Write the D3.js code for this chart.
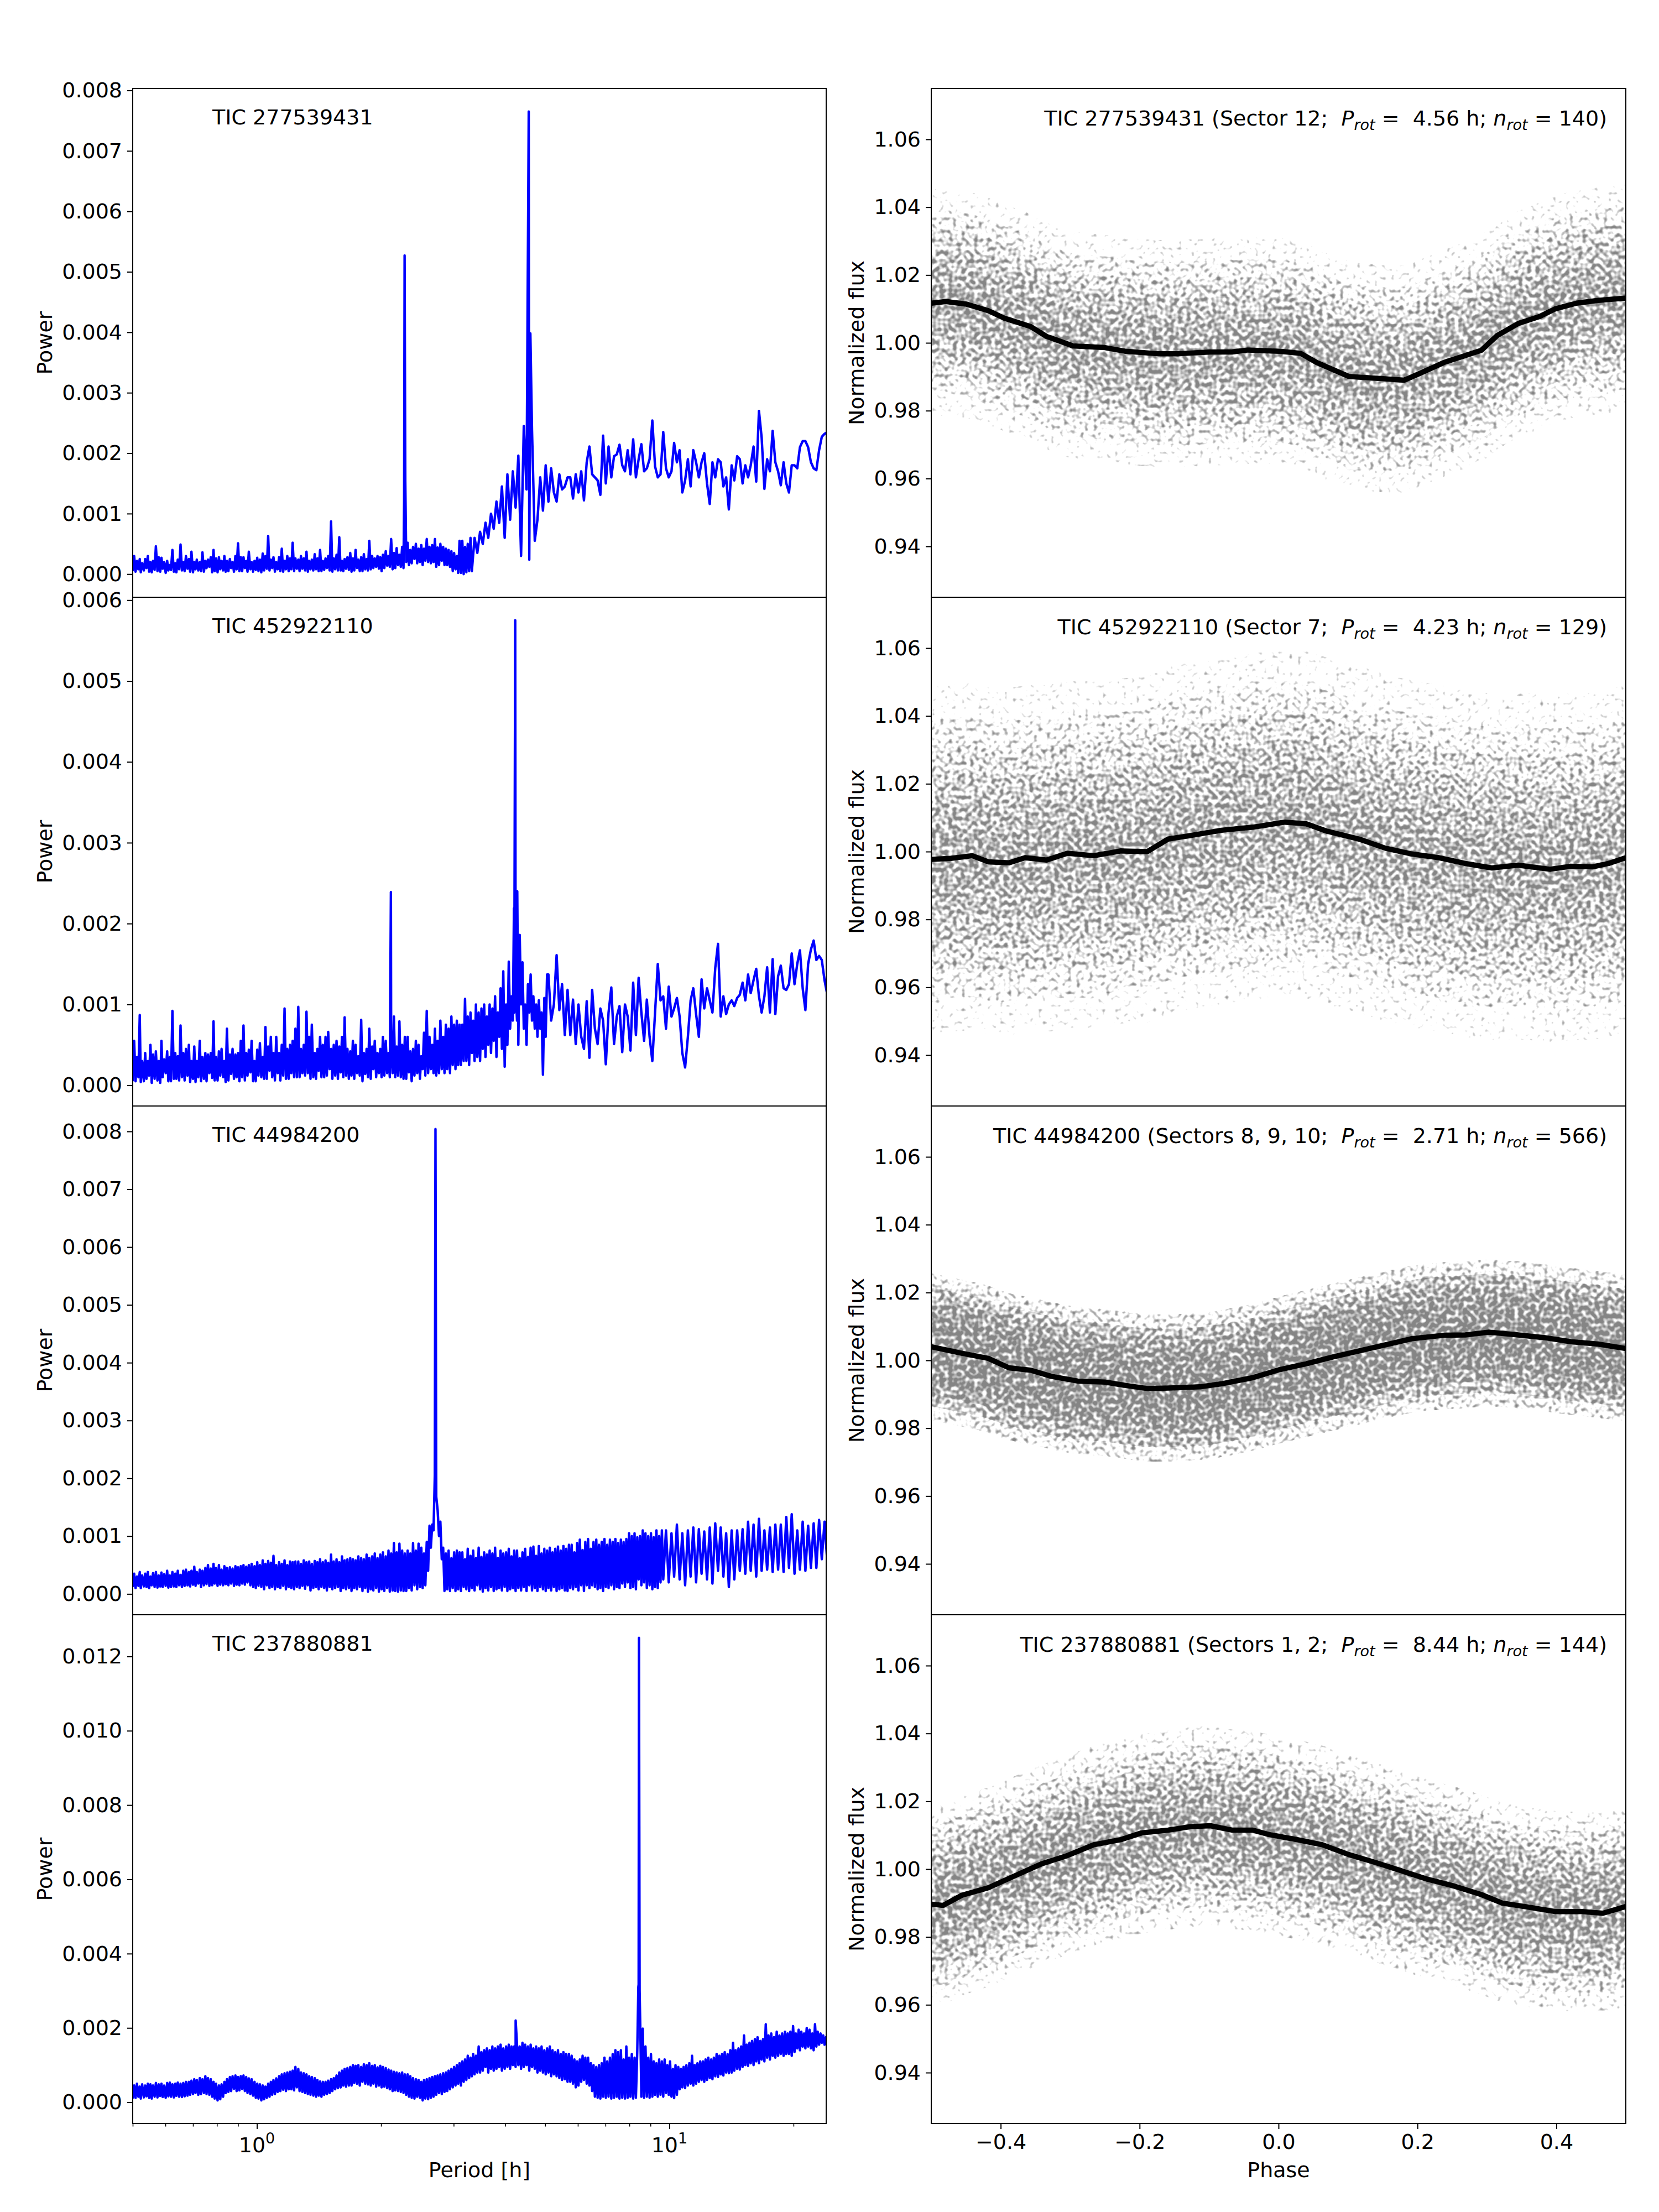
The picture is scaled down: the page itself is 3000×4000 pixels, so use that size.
<!DOCTYPE html>
<html>

<head>
    <meta charset="utf-8">
    <title>Periodograms and phase-folded light curves</title>
    <script src="https://d3js.org/d3.v7.min.js"></script>
    <style>
        body { margin: 0; background: #fff; }
        text { font-family: "DejaVu Sans", sans-serif; fill: #000; }
    </style>
</head>

<body>

    <svg width="3000" height="4000" id="mainSvg"></svg>
    <script>

        // ---- labels ----
        const ticNames = ["TIC 277539431", "TIC 452922110", "TIC 44984200", "TIC 237880881"];
        const sectorNotes = ["Sector 12", "Sector 7", "Sectors 8, 9, 10", "Sectors 1, 2"];
        const rotPeriods = ["4.56", "4.23", "2.71", "8.44"];
        const rotCounts = ["140", "129", "566", "144"];

        // ---- ticks ----
        const powerTicks = [
            [0, 0.001, 0.002, 0.003, 0.004, 0.005, 0.006, 0.007, 0.008],
            [0, 0.001, 0.002, 0.003, 0.004, 0.005, 0.006],
            [0, 0.001, 0.002, 0.003, 0.004, 0.005, 0.006, 0.007, 0.008],
            [0, 0.002, 0.004, 0.006, 0.008, 0.010, 0.012]
        ];
        const fluxTicks = [0.94, 0.96, 0.98, 1.00, 1.02, 1.04, 1.06];
        const phaseTicks = [-0.4, -0.2, 0.0, 0.2, 0.4];
        const periodMajorTicks = [1, 10];
        const periodMajorExp = ["0", "1"];
        const periodMinorTicks = [0.5, 0.6, 0.7, 0.8, 0.9, 2, 3, 4, 5, 6, 7, 8, 9, 20];

        // ---- periodograms: period [h] sampling, power in units of 1e-3 ----
        const periodGrid = [
            0.500, 0.508, 0.516, 0.523, 0.532, 0.540, 0.548, 0.556, 0.565, 0.574, 0.583, 0.591, 0.601, 0.610, 0.619, 0.629, 0.638, 0.648, 0.658, 0.668,
            0.679, 0.689, 0.700, 0.710, 0.721, 0.732, 0.744, 0.755, 0.767, 0.779, 0.790, 0.803, 0.815, 0.828, 0.840, 0.853, 0.866, 0.880, 0.893, 0.907,
            0.921, 0.935, 0.949, 0.964, 0.979, 0.994, 1.009, 1.025, 1.041, 1.057, 1.073, 1.089, 1.106, 1.123, 1.140, 1.158, 1.176, 1.194, 1.212, 1.231,
            1.250, 1.269, 1.289, 1.309, 1.329, 1.349, 1.370, 1.391, 1.412, 1.434, 1.456, 1.478, 1.501, 1.524, 1.548, 1.572, 1.596, 1.620, 1.645, 1.671,
            1.696, 1.722, 1.749, 1.776, 1.803, 1.831, 1.859, 1.888, 1.916, 1.946, 1.976, 2.006, 2.037, 2.069, 2.100, 2.133, 2.165, 2.199, 2.233, 2.267,
            2.302, 2.337, 2.373, 2.410, 2.447, 2.485, 2.523, 2.561, 2.601, 2.641, 2.681, 2.722, 2.764, 2.807, 2.850, 2.894, 2.939, 2.984, 3.030, 3.076,
            3.124, 3.172, 3.220, 3.270, 3.320, 3.371, 3.423, 3.476, 3.529, 3.583, 3.639, 3.695, 3.751, 3.809, 3.868, 3.927, 3.988, 4.049, 4.111, 4.174,
            4.239, 4.304, 4.370, 4.437, 4.506, 4.575, 4.645, 4.717, 4.789, 4.863, 4.938, 5.014, 5.091, 5.169, 5.249, 5.329, 5.411, 5.494, 5.579, 5.665,
            5.752, 5.840, 5.930, 6.021, 6.114, 6.208, 6.304, 6.400, 6.499, 6.599, 6.700, 6.803, 6.908, 7.014, 7.122, 7.232, 7.343, 7.456, 7.571, 7.687,
            7.805, 7.925, 8.047, 8.171, 8.297, 8.424, 8.554, 8.685, 8.819, 8.955, 9.093, 9.233, 9.375, 9.519, 9.665, 9.814, 9.965, 10.12, 10.27, 10.43,
            10.59, 10.75, 10.92, 11.09, 11.26, 11.43, 11.61, 11.79, 11.97, 12.15, 12.34, 12.53, 12.72, 12.92, 13.12, 13.32, 13.52, 13.73, 13.94, 14.16,
            14.37, 14.60, 14.82, 15.05, 15.28, 15.52, 15.75, 16.00, 16.24, 16.49, 16.74, 17.00, 17.26, 17.53, 17.80, 18.07, 18.35, 18.63, 18.92, 19.21,
            19.50, 19.80, 20.11, 20.42, 20.73, 21.05, 21.37, 21.70, 22.04, 22.38, 22.72, 23.07, 23.42, 23.78, 24.15
        ];
        // in-between samples, read where the periodogram is a dense band
        const periodMid = [
            0.504, 0.512, 0.520, 0.527, 0.536, 0.544, 0.552, 0.560, 0.569, 0.578, 0.587, 0.596, 0.606, 0.615, 0.624, 0.634, 0.643, 0.653, 0.663, 0.673,
            0.684, 0.694, 0.705, 0.715, 0.727, 0.738, 0.750, 0.761, 0.773, 0.785, 0.796, 0.809, 0.821, 0.834, 0.846, 0.860, 0.873, 0.887, 0.900, 0.914,
            0.928, 0.942, 0.956, 0.971, 0.987, 1.002, 1.017, 1.033, 1.049, 1.065, 1.081, 1.097, 1.114, 1.132, 1.149, 1.167, 1.185, 1.203, 1.221, 1.240,
            1.260, 1.279, 1.299, 1.319, 1.339, 1.359, 1.381, 1.402, 1.423, 1.445, 1.467, 1.489, 1.513, 1.536, 1.560, 1.584, 1.608, 1.632, 1.658, 1.684,
            1.709, 1.735, 1.762, 1.790, 1.817, 1.845, 1.873, 1.903, 1.931, 1.961, 1.991, 2.021, 2.053, 2.085, 2.116, 2.149, 2.182, 2.216, 2.250, 2.284,
            2.320, 2.355, 2.391, 2.429, 2.466, 2.504, 2.542, 2.581, 2.621, 2.661, 2.702, 2.743, 2.785, 2.829, 2.872, 2.916, 2.962, 3.007, 3.053, 3.100,
            3.148, 3.196, 3.245, 3.295, 3.345, 3.397, 3.449, 3.503, 3.556, 3.611, 3.667, 3.723, 3.780, 3.838, 3.898, 3.957, 4.019, 4.080, 4.143, 4.206,
            4.272, 4.337, 4.404, 4.471, 4.541, 4.610, 4.681, 4.753, 4.826, 4.900, 4.976, 5.053, 5.130, 5.209, 5.289, 5.370, 5.453, 5.536, 5.622, 5.709,
            5.796, 5.885, 5.976, 6.067, 6.161, 6.256, 6.352, 6.449, 6.549, 6.650, 6.751, 6.855, 6.961, 7.068, 7.177, 7.288, 7.399, 7.513, 7.629, 7.746,
            7.865, 7.986, 8.109, 8.234, 8.361, 8.489, 8.620, 8.752, 8.887, 9.024, 9.163, 9.304, 9.447, 9.592, 9.739, 9.889, 10.04, 10.20, 10.35, 10.51,
            10.67, 10.83, 11.00, 11.18, 11.35, 11.52, 11.70, 11.88, 12.06, 12.24, 12.43, 12.63, 12.82, 13.02, 13.22, 13.42, 13.62, 13.84, 14.05, 14.27,
            14.48, 14.71, 14.93, 15.17, 15.40, 15.64, 15.87, 16.12, 16.36, 16.62, 16.87, 17.13, 17.39, 17.66, 17.94, 18.21, 18.49, 18.77, 19.07, 19.36,
            19.65, 19.95, 20.26, 20.58, 20.89, 21.21, 21.53, 21.87, 22.21, 22.55, 22.89, 23.25, 23.60, 23.96
        ];

        const power1 = [
            0.05, 0.04, 0.08, 0.03, 0.06, 0.10, 0.04, 0.03, 0.07, 0.05, 0.04, 0.09, 0.02, 0.06, 0.07, 0.04, 0.03, 0.08, 0.06, 0.05,
            0.09, 0.04, 0.03, 0.08, 0.06, 0.05, 0.04, 0.10, 0.12, 0.03, 0.05, 0.03, 0.08, 0.06, 0.04, 0.05, 0.10, 0.04, 0.08, 0.05,
            0.05, 0.10, 0.04, 0.08, 0.04, 0.07, 0.05, 0.03, 0.06, 0.09, 0.06, 0.10, 0.04, 0.08, 0.05, 0.04, 0.08, 0.05, 0.08, 0.05,
            0.09, 0.05, 0.09, 0.06, 0.04, 0.08, 0.06, 0.08, 0.05, 0.05, 0.07, 0.10, 0.06, 0.04, 0.08, 0.06, 0.06, 0.05, 0.09, 0.07,
            0.04, 0.06, 0.10, 0.05, 0.05, 0.08, 0.06, 0.08, 0.10, 0.12, 0.09, 0.05, 0.10, 0.14, 0.12, 0.08, 0.10, 0.15, 0.12, 0.10,
            0.20, 0.15, 0.18, 0.25, 0.18, 0.20, 0.15, 0.22, 0.20, 0.18, 0.20, 0.12, 0.15, 0.22, 0.15, 0.15, 0.12, 0.05, 0.08, 0.02,
            0.02, 0.00, 0.03, 0.05, 0.05, 0.60, 0.35, 0.70, 0.50, 0.85, 0.60, 1.00, 0.75, 1.20, 0.85, 1.45, 0.60, 1.65, 0.90, 1.70,
            1.10, 1.96, 0.30, 2.45, 1.40, 0.24, 2.39, 0.55, 0.90, 1.60, 1.05, 1.80, 1.20, 1.75, 1.35, 1.20, 1.65, 1.40, 1.45, 1.60,
            1.60, 1.25, 1.65, 1.35, 1.70, 1.22, 1.85, 2.11, 1.65, 1.60, 1.55, 1.31, 2.29, 1.50, 2.11, 1.60, 1.95, 1.98, 2.14, 1.80,
            1.70, 2.05, 1.65, 2.23, 1.60, 1.90, 2.15, 1.70, 1.75, 1.90, 2.54, 1.78, 1.60, 1.65, 2.35, 1.75, 1.60, 1.70, 2.17, 1.85,
            2.05, 1.35, 1.55, 1.90, 1.45, 2.05, 1.85, 1.60, 1.85, 2.00, 1.50, 1.16, 1.85, 1.60, 1.90, 1.85, 1.45, 1.60, 1.07, 1.80,
            1.55, 1.95, 1.90, 1.50, 1.80, 1.60, 1.80, 2.11, 1.53, 2.70, 2.26, 1.41, 1.90, 1.70, 2.37, 1.85, 1.70, 1.47, 1.85, 1.50,
            1.35, 1.80, 1.80, 1.75, 2.10, 2.20, 2.20, 2.10, 1.85, 1.75, 1.72, 2.05, 2.27, 2.32, 2.35
        ];
        const mid1 = [
            0.30, 0.22, 0.25, 0.18, 0.25, 0.30, 0.20, 0.22, 0.46, 0.28, 0.27, 0.20, 0.22, 0.15, 0.40, 0.18, 0.24, 0.49, 0.20, 0.30,
            0.25, 0.37, 0.20, 0.24, 0.20, 0.36, 0.22, 0.24, 0.28, 0.40, 0.26, 0.28, 0.22, 0.30, 0.22, 0.25, 0.20, 0.30, 0.51, 0.28,
            0.28, 0.22, 0.37, 0.20, 0.22, 0.27, 0.24, 0.34, 0.30, 0.63, 0.24, 0.28, 0.20, 0.28, 0.42, 0.22, 0.30, 0.26, 0.52, 0.26,
            0.24, 0.30, 0.26, 0.37, 0.22, 0.24, 0.33, 0.26, 0.40, 0.22, 0.26, 0.30, 0.87, 0.26, 0.32, 0.61, 0.22, 0.25, 0.28, 0.35,
            0.26, 0.40, 0.24, 0.28, 0.33, 0.25, 0.55, 0.30, 0.26, 0.30, 0.28, 0.32, 0.38, 0.30, 0.58, 0.35, 0.43, 0.32, 0.45, null,
            0.52, 0.40, 0.45, 0.50, 0.42, 0.48, 0.42, 0.58, 0.45, 0.48, 0.58, 0.44, 0.50, 0.45, 0.42, 0.40, 0.38, 0.35, 0.30, 0.55,
            0.55, 0.45, 0.50, 0.60
        ];
        const peaks1 = [[2.275, 1.22], [2.281, 5.27], [2.290, 1.53], [4.561, 7.65], [4.603, 3.98]];

        const power2 = [
            0.05, 0.05, 0.10, 0.04, 0.05, 0.08, 0.12, 0.03, 0.08, 0.06, 0.03, 0.10, 0.15, 0.05, 0.05, 0.08, 0.08, 0.06, 0.10, 0.06,
            0.12, 0.04, 0.08, 0.04, 0.10, 0.05, 0.08, 0.05, 0.15, 0.09, 0.06, 0.06, 0.12, 0.10, 0.04, 0.06, 0.14, 0.08, 0.10, 0.05,
            0.10, 0.06, 0.12, 0.16, 0.05, 0.05, 0.12, 0.10, 0.08, 0.08, 0.18, 0.10, 0.06, 0.15, 0.06, 0.12, 0.08, 0.08, 0.15, 0.10,
            0.10, 0.10, 0.15, 0.12, 0.15, 0.08, 0.10, 0.08, 0.18, 0.10, 0.10, 0.12, 0.20, 0.08, 0.12, 0.08, 0.16, 0.10, 0.12, 0.08,
            0.12, 0.08, 0.15, 0.12, 0.05, 0.14, 0.10, 0.08, 0.20, 0.10, 0.15, 0.10, 0.12, 0.15, 0.10, 0.15, 0.10, 0.12, 0.10, 0.08,
            0.08, 0.16, 0.05, 0.12, 0.15, 0.08, 0.20, 0.12, 0.15, 0.20, 0.15, 0.12, 0.15, 0.20, 0.15, 0.20, 0.15, 0.25, 0.20, 0.25,
            0.25, 0.30, 0.30, 0.25, 0.40, 0.30, 0.35, 0.30, 0.45, 0.35, 0.50, 0.40, 0.55, 0.35, 0.60, 0.45, 0.23, 0.50, 0.70, 0.80,
            1.20, 0.50, 1.00, 0.70, 0.50, 0.90, 0.80, 0.70, 0.60, 0.70, 0.13, 0.60, 1.37, 0.80, 1.00, 1.61, 0.93, 1.25, 0.62, 1.18,
            0.62, 1.06, 0.51, 1.00, 0.60, 0.45, 1.04, 0.34, 1.18, 0.70, 0.51, 0.95, 0.80, 0.26, 0.90, 1.21, 0.51, 0.85, 0.98, 0.41,
            1.00, 0.85, 0.43, 1.27, 0.62, 1.33, 0.90, 0.55, 1.06, 0.60, 0.30, 0.90, 1.50, 1.05, 1.10, 0.70, 1.22, 0.85, 0.95, 1.08,
            0.85, 0.40, 0.22, 0.60, 1.05, 1.20, 0.88, 0.60, 1.31, 0.95, 1.20, 1.05, 0.90, 1.45, 1.75, 0.85, 1.10, 0.88, 1.00, 1.05,
            0.98, 1.08, 1.12, 1.27, 1.05, 1.37, 1.14, 1.30, 1.44, 1.10, 0.90, 1.10, 1.46, 0.90, 1.56, 0.88, 1.35, 1.48, 1.20, 1.18,
            1.25, 1.63, 1.25, 1.50, 1.67, 1.20, 0.93, 1.50, 1.68, 1.79, 1.55, 1.60, 1.55, 1.30, 1.12
        ];
        const mid2 = [
            0.55, 0.35, 0.87, 0.30, 0.40, 0.30, 0.50, 0.38, 0.42, 0.30, 0.55, 0.32, 0.42, 0.35, 0.92, 0.40, 0.36, 0.74, 0.40, 0.45,
            0.50, 0.30, 0.48, 0.30, 0.55, 0.35, 0.40, 0.38, 0.40, 0.79, 0.35, 0.42, 0.45, 0.30, 0.70, 0.38, 0.45, 0.38, 0.40, 0.55,
            0.74, 0.40, 0.44, 0.55, 0.30, 0.44, 0.52, 0.35, 0.72, 0.48, 0.60, 0.40, 0.60, 0.40, 0.50, 0.95, 0.45, 0.50, 0.55, 0.70,
            0.97, 0.45, 0.50, 0.91, 0.60, 0.75, 0.40, 0.45, 0.60, 0.50, 0.60, 0.66, 0.45, 0.50, 0.55, 0.48, 0.60, 0.84, 0.45, 0.42,
            0.55, 0.50, 0.36, 0.81, 0.40, 0.45, 0.70, 0.48, 0.55, 0.40, 0.45, 0.60, 0.55, 0.40, 0.50, 0.85, 0.48, 0.79, 0.50, 0.60,
            0.60, 0.42, 0.45, 0.55, 0.50, 0.36, 0.65, 0.92, 0.60, 0.50, 0.70, 0.55, 0.80, 0.60, 0.75, 0.70, 0.85, 0.75, 0.80, 0.75,
            0.75, 1.07, 0.85, 0.90, 0.80, 1.00, 0.90, 0.95, 1.00, 0.85, 1.00, 0.95, 1.10, 0.90, 1.20, 1.41, 1.00, 1.53, 1.10, 0.90,
            0.80, 1.86, 1.52, 1.00, 1.25, 1.37, 1.10, 1.00, 1.05, 0.90, 1.08, 1.37
        ];
        const peaks2 = [[2.113, 2.39], [4.200, 2.19], [4.230, 5.75], [4.278, 2.40]];

        const power3 = [
            0.12, 0.10, 0.14, 0.10, 0.13, 0.12, 0.10, 0.15, 0.12, 0.11, 0.13, 0.12, 0.14, 0.11, 0.12, 0.13, 0.12, 0.15, 0.12, 0.14,
            0.15, 0.13, 0.16, 0.14, 0.18, 0.12, 0.15, 0.17, 0.14, 0.15, 0.18, 0.14, 0.16, 0.15, 0.17, 0.15, 0.18, 0.14, 0.16, 0.15,
            0.18, 0.16, 0.20, 0.15, 0.12, 0.10, 0.14, 0.12, 0.08, 0.15, 0.10, 0.12, 0.08, 0.12, 0.10, 0.14, 0.08, 0.12, 0.10, 0.08,
            0.12, 0.10, 0.14, 0.09, 0.15, 0.06, 0.10, 0.12, 0.08, 0.12, 0.10, 0.06, 0.12, 0.08, 0.10, 0.12, 0.05, 0.10, 0.08, 0.10,
            0.05, 0.10, 0.08, 0.12, 0.05, 0.10, 0.04, 0.08, 0.06, 0.10, 0.04, 0.08, 0.05, 0.10, 0.04, 0.06, 0.05, 0.04, 0.06, 0.05,
            0.05, 0.10, 0.06, 0.15, 0.08, 0.12, 0.10, 0.15, 0.40, 0.80, 1.10, 1.68, 1.00, 0.60, 0.05, 0.08, 0.05, 0.10, 0.05, 0.08,
            0.05, 0.12, 0.08, 0.05, 0.10, 0.06, 0.15, 0.08, 0.04, 0.10, 0.06, 0.12, 0.05, 0.08, 0.10, 0.06, 0.12, 0.05, 0.08, 0.10,
            0.05, 0.10, 0.06, 0.12, 0.05, 0.15, 0.06, 0.10, 0.05, 0.12, 0.08, 0.05, 0.10, 0.06, 0.12, 0.05, 0.08, 0.10, 0.06, 0.05,
            0.10, 0.08, 0.12, 0.06, 0.15, 0.05, 0.15, 0.10, 0.15, 0.12, 0.08, 0.10, 0.05, 0.12, 0.10, 0.15, 0.08, 0.12, 0.10, 0.18,
            0.12, 0.20, 0.10, 0.12, 0.08, 0.25, 0.15, 0.20, 0.10, 0.15, 0.08, 0.12, 0.10, 0.20, 0.25, 1.10, 0.20, 1.05, 0.30, 1.20,
            0.25, 1.05, 0.15, 1.10, 0.30, 1.15, 0.20, 1.12, 0.35, 1.08, 0.25, 1.15, 0.18, 1.22, 0.40, 1.15, 0.30, 1.05, 0.12, 1.10,
            0.25, 1.10, 0.40, 1.12, 0.35, 1.25, 0.40, 1.20, 0.30, 1.30, 0.40, 1.10, 0.42, 1.15, 0.38, 1.20, 0.42, 1.20, 0.38, 1.33,
            0.45, 1.38, 0.35, 1.10, 0.42, 1.25, 0.40, 1.18, 0.45, 1.22, 0.45, 1.28, 0.60, 1.25, 0.55
        ];
        const mid3 = [
            0.35, 0.30, 0.38, 0.32, 0.35, 0.38, 0.30, 0.36, 0.38, 0.32, 0.37, 0.34, 0.40, 0.32, 0.38, 0.35, 0.40, 0.33, 0.40, 0.42,
            0.38, 0.40, 0.47, 0.38, 0.42, 0.40, 0.45, 0.50, 0.44, 0.52, 0.45, 0.50, 0.42, 0.48, 0.45, 0.46, 0.44, 0.48, 0.46, 0.48,
            0.50, 0.47, 0.50, 0.52, 0.48, 0.55, 0.50, 0.58, 0.52, 0.57, 0.54, 0.66, 0.50, 0.55, 0.52, 0.58, 0.50, 0.56, 0.55, 0.56,
            0.56, 0.52, 0.58, 0.55, 0.56, 0.52, 0.57, 0.55, 0.60, 0.55, 0.58, 0.54, 0.68, 0.56, 0.60, 0.55, 0.65, 0.58, 0.60, 0.62,
            0.60, 0.58, 0.65, 0.62, 0.60, 0.68, 0.62, 0.65, 0.70, 0.62, 0.68, 0.72, 0.65, 0.75, 0.70, 0.88, 0.72, 0.87, 0.75, 0.70,
            0.75, 0.70, 0.88, 0.75, 0.87, 0.80, 0.70, 0.90, 1.18, 1.20, null, 1.45, 1.25, 0.80, 0.70, 0.75, 0.62, 0.72, 0.75, 0.72,
            0.72, 0.60, 0.78, 0.66, 0.75, 0.62, 0.80, 0.64, 0.72, 0.68, 0.75, 0.70, 0.80, 0.62, 0.75, 0.70, 0.72, 0.78, 0.65, 0.75,
            0.75, 0.62, 0.72, 0.78, 0.64, 0.80, 0.82, 0.66, 0.83, 0.70, 0.78, 0.75, 0.80, 0.72, 0.78, 0.82, 0.75, 0.83, 0.78, 0.85,
            0.85, 0.72, 0.88, 0.94, 0.76, 0.90, 0.95, 0.78, 0.90, 0.94, 0.85, 0.90, 0.95, 0.85, 0.94, 0.90, 0.95, 0.88, 0.94, 0.90,
            0.95, 1.05, 1.00, 1.05, 0.98, 1.00, 1.10, 1.05, 1.00, 1.05, 0.98, 1.10, 1.00, 1.10
        ];
        const peaks3 = [[2.700, 2.06], [2.710, 8.04]];

        const power4 = [
            0.10, 0.12, 0.15, 0.10, 0.13, 0.16, 0.12, 0.10, 0.15, 0.13, 0.17, 0.14, 0.12, 0.16, 0.15, 0.13, 0.17, 0.15, 0.14, 0.16,
            0.18, 0.20, 0.22, 0.25, 0.20, 0.22, 0.25, 0.22, 0.20, 0.15, 0.10, 0.05, 0.08, 0.15, 0.25, 0.28, 0.30, 0.36, 0.30, 0.32,
            0.36, 0.30, 0.25, 0.22, 0.18, 0.12, 0.10, 0.05, 0.08, 0.12, 0.15, 0.20, 0.22, 0.28, 0.30, 0.34, 0.30, 0.35, 0.35, 0.32,
            0.40, 0.30, 0.28, 0.25, 0.22, 0.20, 0.18, 0.15, 0.18, 0.15, 0.20, 0.22, 0.25, 0.30, 0.35, 0.38, 0.40, 0.45, 0.42, 0.45,
            0.45, 0.52, 0.50, 0.45, 0.55, 0.50, 0.48, 0.45, 0.50, 0.42, 0.45, 0.40, 0.42, 0.38, 0.35, 0.30, 0.32, 0.30, 0.28, 0.25,
            0.20, 0.15, 0.12, 0.10, 0.15, 0.12, 0.05, 0.10, 0.08, 0.12, 0.15, 0.20, 0.25, 0.22, 0.28, 0.30, 0.35, 0.40, 0.45, 0.50,
            0.45, 0.55, 0.60, 0.65, 0.70, 0.75, 0.80, 0.80, 0.85, 0.95, 0.80, 0.90, 0.85, 0.90, 0.95, 0.85, 0.90, 0.95, 0.90, 1.00,
            0.95, 1.00, 0.90, 0.95, 1.00, 0.85, 0.95, 0.90, 0.80, 0.85, 0.80, 0.75, 0.80, 0.70, 0.75, 0.70, 0.65, 0.60, 0.62, 0.55,
            0.55, 0.50, 0.40, 0.45, 0.55, 0.60, 0.50, 0.45, 0.30, 0.15, 0.12, 0.10, 0.15, 0.12, 0.15, 0.10, 0.12, 0.15, 0.10, 0.12,
            0.10, 0.12, 0.15, 0.10, 0.12, 3.17, 0.15, 0.12, 0.15, 0.12, 0.15, 0.20, 0.15, 0.20, 0.15, 0.25, 0.20, 0.15, 0.11, 0.20,
            0.35, 0.40, 0.38, 0.45, 0.50, 0.45, 0.50, 0.55, 0.60, 0.55, 0.60, 0.65, 0.62, 0.70, 0.68, 0.75, 0.72, 0.80, 0.78, 0.80,
            0.85, 0.90, 0.88, 0.95, 1.00, 0.98, 1.05, 1.00, 1.10, 1.05, 1.15, 1.10, 1.20, 1.15, 1.25, 1.20, 1.25, 1.30, 1.25, 1.30,
            1.30, 1.25, 1.35, 1.45, 1.40, 1.50, 1.45, 1.50, 1.45, 1.40, 1.50, 1.55, 1.60, 1.55, 1.65
        ];
        const mid4 = [
            0.45, 0.50, 0.42, 0.48, 0.45, 0.50, 0.48, 0.45, 0.52, 0.48, 0.50, 0.45, 0.52, 0.53, 0.48, 0.50, 0.53, 0.50, 0.52, 0.55,
            0.55, 0.58, 0.62, 0.60, 0.65, 0.62, 0.70, 0.65, 0.62, 0.55, 0.50, 0.45, 0.48, 0.55, 0.62, 0.68, 0.70, 0.72, 0.68, 0.70,
            0.72, 0.68, 0.64, 0.62, 0.55, 0.50, 0.48, 0.45, 0.42, 0.50, 0.55, 0.60, 0.64, 0.70, 0.75, 0.78, 0.80, 0.82, 0.85, 0.95,
            0.90, 0.80, 0.78, 0.75, 0.70, 0.68, 0.65, 0.60, 0.56, 0.55, 0.55, 0.58, 0.62, 0.65, 0.72, 0.80, 0.85, 0.90, 0.92, 0.95,
            1.00, 0.98, 1.00, 0.95, 1.02, 1.00, 1.05, 0.98, 1.00, 0.94, 0.98, 0.95, 0.92, 0.88, 0.85, 0.82, 0.80, 0.78, 0.80, 0.75,
            0.75, 0.70, 0.65, 0.62, 0.60, 0.55, 0.60, 0.62, 0.65, 0.68, 0.70, 0.72, 0.75, 0.78, 0.80, 0.85, 0.90, 0.95, 1.00, 1.05,
            1.10, 1.15, 1.25, 1.20, 1.30, 1.25, 1.50, 1.35, 1.40, 1.45, 1.40, 1.50, 1.45, 1.50, 1.55, 1.45, 1.50, 1.55, 1.50, 1.50,
            1.55, 1.50, 1.60, 1.55, 1.50, 1.55, 1.45, 1.50, 1.45, 1.50, 1.40, 1.45, 1.50, 1.40, 1.35, 1.40, 1.30, 1.35, 1.30, 1.30,
            1.25, 1.15, 1.10, 1.15, 1.25, 1.20, 1.20, 1.05, 1.00, 0.95, 1.00, 1.05, 1.20, 1.10, 1.20, 1.30, 1.40, 1.35, 1.40, 1.15,
            1.50, 1.20, 1.30, 1.20, 1.40, null, 1.98, 1.50, 1.20, 1.30, 1.10, 1.05, 1.15, 1.10, 1.15, 1.00, 1.10, 0.90, 1.00, 0.95,
            0.90, 0.95, 1.00, 1.05, 1.25, 1.00, 1.05, 1.10, 1.10, 1.15, 1.20, 1.15, 1.20, 1.30, 1.25, 1.30, 1.35, 1.30, 1.40, 1.60,
            1.40, 1.45, 1.50, 1.80, 1.55, 1.60, 1.65, 1.70, 1.75, 1.65, 1.70, 2.10, 1.80, 1.85, 1.75, 1.90, 1.80, 1.85, 1.90, 1.85,
            1.90, 2.05, 1.85, 1.95, 1.90, 1.85, 2.00, 1.95, 1.85, 2.10, 1.90, 1.85, 1.80, 1.75
        ];
        const peaks4 = [[4.24, 2.20], [8.41, 3.10], [8.44, 12.50], [8.47, 3.00], [8.50, 2.10]];

        // ---- phase-folded light curves: binned mean and scatter width ----
        const binPhase1 = [-0.5, -0.479, -0.449, -0.418, -0.395, -0.357, -0.334, -0.319, -0.296, -0.25, -0.22, -0.174, -0.144, -0.098, -0.067, -0.044,
            0.002, 0.032, 0.055, 0.101, 0.147, 0.181, 0.2, 0.238, 0.292, 0.315, 0.345, 0.376, 0.398, 0.429, 0.46, 0.5];
        const binFlux1 = [1.0117, 1.0122, 1.0114, 1.0095, 1.0073, 1.0048, 1.0019, 1.0008, 0.9991, 0.9986, 0.9975, 0.9968, 0.9968, 0.9973, 0.9973, 0.9979,
            0.9975, 0.9969, 0.9942, 0.9901, 0.9895, 0.989, 0.9907, 0.9942, 0.9978, 1.0022, 1.0057, 1.0078, 1.01, 1.0117, 1.0125, 1.0132];

        const binPhase2 = [-0.5, -0.472, -0.441, -0.418, -0.388, -0.365, -0.334, -0.304, -0.266, -0.227, -0.189, -0.159, -0.128, -0.082, -0.037,
            0.009, 0.04, 0.07, 0.116, 0.154, 0.192, 0.231, 0.269, 0.307, 0.345, 0.391, 0.421, 0.452, 0.475, 0.5];
        const binFlux2 = [0.9977, 0.998, 0.9988, 0.997, 0.9967, 0.9982, 0.9975, 0.9995, 0.9988, 1.0002, 1.0, 1.0037, 1.0047, 1.0063, 1.0072,
            1.0087, 1.0082, 1.006, 1.0037, 1.001, 0.9993, 0.9982, 0.9965, 0.9952, 0.996, 0.9948, 0.9957, 0.9955, 0.9965, 0.9982];

        const binPhase3 = [-0.5, -0.456, -0.418, -0.388, -0.357, -0.327, -0.289, -0.25, -0.22, -0.189, -0.151, -0.113, -0.082, -0.037,
            0.002, 0.04, 0.078, 0.116, 0.154, 0.192, 0.238, 0.269, 0.303, 0.345, 0.383, 0.421, 0.46, 0.5];
        const binFlux3 = [1.004, 1.0021, 1.0006, 0.9978, 0.9971, 0.9953, 0.9939, 0.9936, 0.9926, 0.9917, 0.9919, 0.9922, 0.9931, 0.9949,
            0.9973, 0.999, 1.001, 1.0028, 1.0046, 1.0064, 1.0074, 1.0075, 1.0083, 1.0075, 1.0067, 1.0055, 1.0048, 1.0035];

        const binPhase4 = [-0.5, -0.483, -0.456, -0.418, -0.38, -0.342, -0.304, -0.266, -0.227, -0.197, -0.159, -0.128, -0.098, -0.067, -0.037,
            -0.014, 0.024, 0.063, 0.101, 0.139, 0.177, 0.215, 0.253, 0.292, 0.322, 0.36, 0.398, 0.437, 0.467, 0.5];
        const binFlux4 = [0.9897, 0.9893, 0.9923, 0.9945, 0.998, 1.0015, 1.004, 1.0072, 1.0087, 1.0107, 1.0115, 1.0125, 1.0128, 1.0115, 1.0115,
            1.0102, 1.0088, 1.0072, 1.0043, 1.002, 0.9995, 0.997, 0.995, 0.9925, 0.99, 0.9888, 0.9875, 0.9875, 0.987, 0.989];

        // standard deviation of the single-point scatter around the binned curve
        const fluxScatter = [0.0108, 0.0165, 0.0070, 0.0095];

        const powerSeries = [power1, power2, power3, power4];
        const midSeries = [mid1, mid2, mid3, mid4];
        const peakSeries = [peaks1, peaks2, peaks3, peaks4];
        const binPhases = [binPhase1, binPhase2, binPhase3, binPhase4];
        const binFluxes = [binFlux1, binFlux2, binFlux3, binFlux4];

        // ---- layout ----
        const mainSvg = d3.select("#mainSvg");
        const leftX0 = 240, leftX1 = 1494;
        const rightX0 = 1684, rightX1 = 2940;
        const panelTop = 160, panelH = 920;
        const fontSize = 38;

        const xPeriod = d3.scaleLog().domain([0.5, 24]).range([leftX0, leftX1]);
        const xPhase = d3.scaleLinear().domain([-0.5, 0.5]).range([rightX0, rightX1]);
        const yFluxDomain = [0.925, 1.075];

        // nested bands of the scatter cloud (half widths in units of the scatter)
        const cloudWidths = [3.1, 2.5, 2.0, 1.5, 1.0, 0.5];
        // opacity of each band, per panel (denser clouds for more points)
        const cloudOpacity = [0.27, 0.25, 0.50, 0.31];

        const defs = mainSvg.append("defs");

        // grainy texture for the scatter cloud
        const grain = defs.append("filter")
            .attr("id", "grain")
            .attr("filterUnits", "userSpaceOnUse")
            .attr("x", rightX0).attr("y", 0)
            .attr("width", rightX1 - rightX0).attr("height", 4000)
            .attr("color-interpolation-filters", "sRGB");
        grain.append("feTurbulence")
            .attr("type", "fractalNoise").attr("baseFrequency", 0.13)
            .attr("numOctaves", 1).attr("seed", 5).attr("result", "noise");
        grain.append("feColorMatrix")
            .attr("in", "noise").attr("type", "matrix")
            .attr("values", "0 0 0 0 0  0 0 0 0 0  0 0 0 0 0  1 0 0 0 0")
            .attr("result", "noiseA");
        grain.append("feComposite")
            .attr("in", "noiseA").attr("in2", "SourceGraphic")
            .attr("operator", "arithmetic")
            .attr("k1", 0).attr("k2", 4).attr("k3", 1.9).attr("k4", -3.0)
            .attr("result", "mix");
        grain.append("feComponentTransfer")
            .attr("in", "SourceAlpha").attr("result", "inside")
            .append("feFuncA").attr("type", "discrete").attr("tableValues", "0 1 1 1 1 1 1 1 1 1 1 1");
        grain.append("feComposite")
            .attr("in", "mix").attr("in2", "inside").attr("operator", "in").attr("result", "spots");
        grain.append("feFlood").attr("flood-color", "#858585").attr("result", "grey");
        grain.append("feComposite").attr("in", "grey").attr("in2", "spots").attr("operator", "in");

        const styleAxis = function (g) {
            g.attr("font-size", null).attr("font-family", null);
            g.select(".domain").remove();
            g.selectAll(".tick line").attr("stroke", "#000").attr("stroke-width", 2);
            g.selectAll(".tick text").attr("font-size", fontSize).attr("fill", "#000");
        };

        const drawFrame = function (x0, x1, top) {
            mainSvg.append("rect")
                .attr("x", x0).attr("y", top)
                .attr("width", x1 - x0).attr("height", panelH)
                .attr("fill", "none").attr("stroke", "#000").attr("stroke-width", 2);
        };

        for (let i = 0; i < 4; i++) {
            const top = panelTop + i * panelH;
            const bottom = top + panelH;

            // ===== left: periodogram =====
            defs.append("clipPath").attr("id", "clipL" + i)
                .append("rect").attr("x", leftX0).attr("y", top)
                .attr("width", leftX1 - leftX0).attr("height", panelH);

            const pts = periodGrid.map((p, j) => [p, powerSeries[i][j]])
                .concat(periodMid.map((p, j) => [p, midSeries[i][j]]))
                .filter(d => d[1] != null)
                .concat(peakSeries[i])
                .sort((a, b) => a[0] - b[0]);

            const ext = d3.extent(pts, d => d[1] * 1e-3);
            const pad = 0.05 * (ext[1] - ext[0]);
            const yPow = d3.scaleLinear()
                .domain([ext[0] - pad, ext[1] + pad])
                .range([bottom, top]);

            mainSvg.append("path")
                .datum(pts)
                .attr("clip-path", `url(#clipL${i})`)
                .attr("fill", "none")
                .attr("stroke", "#0000ff")
                .attr("stroke-width", 4.4)
                .attr("stroke-linejoin", "round")
                .attr("d", d3.line().x(d => xPeriod(d[0])).y(d => yPow(d[1] * 1e-3)));

            const yAxisL = mainSvg.append("g")
                .attr("transform", `translate(${leftX0},0)`)
                .call(d3.axisLeft(yPow).tickValues(powerTicks[i])
                    .tickFormat(d3.format(".3f")).tickSize(10).tickPadding(9));
            styleAxis(yAxisL);

            mainSvg.append("text")
                .attr("x", 384).attr("y", top + 65)
                .attr("font-size", fontSize)
                .text(ticNames[i]);

            mainSvg.append("text")
                .attr("transform", `translate(94,${top + panelH / 2}) rotate(-90)`)
                .attr("text-anchor", "middle")
                .attr("font-size", fontSize)
                .text("Power");

            drawFrame(leftX0, leftX1, top);

            // ===== right: phase-folded light curve =====
            defs.append("clipPath").attr("id", "clipR" + i)
                .append("rect").attr("x", rightX0).attr("y", top)
                .attr("width", rightX1 - rightX0).attr("height", panelH);

            const yFlux = d3.scaleLinear().domain(yFluxDomain).range([bottom, top]);
            const bins = binPhases[i].map((p, j) => [p, binFluxes[i][j]]);
            const s = fluxScatter[i];

            const cloud = mainSvg.append("g")
                .attr("clip-path", `url(#clipR${i})`)
                .append("g")
                .attr("filter", "url(#grain)");
            cloudWidths.forEach(k => {
                cloud.append("path")
                    .datum(bins)
                    .attr("fill", "#808080")
                    .attr("fill-opacity", cloudOpacity[i])
                    .attr("d", d3.area()
                        .x(d => xPhase(d[0]))
                        .y0(d => yFlux(d[1] - k * s))
                        .y1(d => yFlux(d[1] + k * s))
                        .curve(d3.curveBasis));
            });

            mainSvg.append("path")
                .datum(bins)
                .attr("clip-path", `url(#clipR${i})`)
                .attr("fill", "none")
                .attr("stroke", "#000")
                .attr("stroke-width", 9.5)
                .attr("stroke-linejoin", "round")
                .attr("d", d3.line().x(d => xPhase(d[0])).y(d => yFlux(d[1])));

            const yAxisR = mainSvg.append("g")
                .attr("transform", `translate(${rightX0},0)`)
                .call(d3.axisLeft(yFlux).tickValues(fluxTicks)
                    .tickFormat(d3.format(".2f")).tickSize(10).tickPadding(9));
            styleAxis(yAxisR);

            mainSvg.append("text")
                .attr("transform", `translate(1562,${top + panelH / 2}) rotate(-90)`)
                .attr("text-anchor", "middle")
                .attr("font-size", fontSize)
                .text("Normalized flux");

            // header with mathtext-like subscripts
            const head = mainSvg.append("text")
                .attr("x", 2906).attr("y", top + 67)
                .attr("text-anchor", "end")
                .attr("font-size", fontSize)
                .style("white-space", "pre");
            head.append("tspan").text(`${ticNames[i]} (${sectorNotes[i]};  `);
            head.append("tspan").attr("font-style", "italic").text("P");
            head.append("tspan").attr("font-style", "italic").attr("font-size", 27).attr("dy", 8).text("rot");
            head.append("tspan").attr("dy", -8).text(` =  ${rotPeriods[i]} h; `);
            head.append("tspan").attr("font-style", "italic").text("n");
            head.append("tspan").attr("font-style", "italic").attr("font-size", 27).attr("dy", 8).text("rot");
            head.append("tspan").attr("dy", -8).text(` = ${rotCounts[i]})`);

            drawFrame(rightX0, rightX1, top);

            // ===== bottom axes =====
            if (i === 3) {
                const minorAxis = mainSvg.append("g")
                    .attr("transform", `translate(0,${bottom})`)
                    .call(d3.axisBottom(xPeriod).tickValues(periodMinorTicks)
                        .tickFormat(() => "").tickSize(5.5));
                styleAxis(minorAxis);
                minorAxis.selectAll(".tick line").attr("stroke-width", 1.6);

                const majorAxis = mainSvg.append("g")
                    .attr("transform", `translate(0,${bottom})`)
                    .call(d3.axisBottom(xPeriod).tickValues(periodMajorTicks)
                        .tickFormat(() => "").tickSize(10));
                styleAxis(majorAxis);

                periodMajorTicks.forEach((v, j) => {
                    const t = mainSvg.append("text")
                        .attr("x", xPeriod(v)).attr("y", bottom + 52)
                        .attr("text-anchor", "middle")
                        .attr("font-size", fontSize);
                    t.append("tspan").text("10");
                    t.append("tspan").attr("font-size", 27).attr("dy", -16).text(periodMajorExp[j]);
                });

                const phaseAxis = mainSvg.append("g")
                    .attr("transform", `translate(0,${bottom})`)
                    .call(d3.axisBottom(xPhase).tickValues(phaseTicks)
                        .tickFormat(d3.format(".1f")).tickSize(10).tickPadding(9));
                styleAxis(phaseAxis);

                mainSvg.append("text")
                    .attr("x", (leftX0 + leftX1) / 2).attr("y", bottom + 97)
                    .attr("text-anchor", "middle")
                    .attr("font-size", fontSize)
                    .text("Period [h]");

                mainSvg.append("text")
                    .attr("x", (rightX0 + rightX1) / 2).attr("y", bottom + 97)
                    .attr("text-anchor", "middle")
                    .attr("font-size", fontSize)
                    .text("Phase");
            }
        }

    </script>
</body>

</html>
